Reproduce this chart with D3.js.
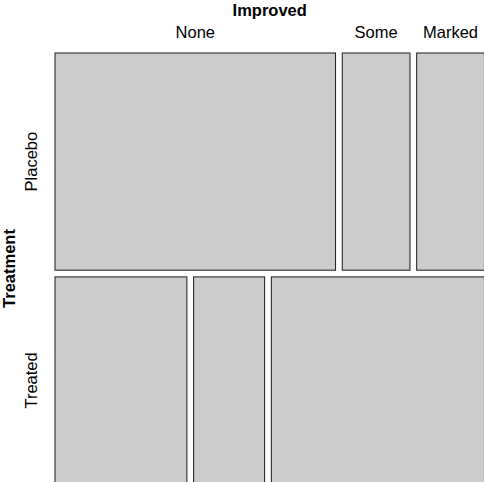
<!DOCTYPE html>
<html>
<head>
<meta charset="utf-8">
<script src="https://cdn.jsdelivr.net/npm/d3@7"></script>
<style>
  html, body { margin: 0; padding: 0; background: #fff; }
  svg { display: block; }
</style>
</head>
<body>
<svg id="chart" width="484" height="482"></svg>
<script>
// Arthritis data: Treatment x Improved counts
const treatments = ["Placebo", "Treated"];
const improved = ["None", "Some", "Marked"];
const placeboCounts = [29, 7, 7];
const treatedCounts = [13, 7, 21];
const rowVar = "Treatment";
const colVar = "Improved";

(function () {
  const counts = [placeboCounts, treatedCounts];
  const rowTotals = counts.map(r => d3.sum(r));
  const grand = d3.sum(rowTotals);

  const svg = d3.select("#chart");
  const font = "'Liberation Sans', Arial, Helvetica, sans-serif";

  // plotting region and spacing between tiles
  const plotLeft = 55, plotRight = 484.4, plotTop = 53, plotBottom = 484;
  const gap = 6.7;

  // vertical split by Treatment
  const yScale = d3.scaleLinear()
    .domain([0, grand])
    .range([0, (plotBottom - plotTop) - gap * (treatments.length - 1)]);

  const rows = [];
  let yCursor = plotTop;
  treatments.forEach((t, i) => {
    const h = yScale(rowTotals[i]);
    rows.push({ name: t, y: yCursor, h });
    yCursor += h + gap;
  });

  // horizontal split within each row by Improved
  const tiles = [];
  rows.forEach((r, i) => {
    const xScale = d3.scaleLinear()
      .domain([0, rowTotals[i]])
      .range([0, (plotRight - plotLeft) - gap * (improved.length - 1)]);
    let xCursor = plotLeft;
    improved.forEach((lev, j) => {
      const w = xScale(counts[i][j]);
      tiles.push({ row: i, col: j, x: xCursor, y: r.y, w, h: r.h });
      xCursor += w + gap;
    });
  });

  svg.selectAll("rect.tile")
    .data(tiles)
    .enter().append("rect")
    .attr("class", "tile")
    .attr("x", d => d.x)
    .attr("y", d => d.y)
    .attr("width", d => d.w)
    .attr("height", d => d.h)
    .attr("fill", "#cccccc")
    .attr("stroke", "#1a1a1a")
    .attr("stroke-width", 1);

  // column labels, centred over the first row's tiles
  const topTiles = tiles.filter(d => d.row === 0);
  svg.selectAll("text.collab")
    .data(topTiles)
    .enter().append("text")
    .attr("class", "collab")
    .attr("x", d => d.x + d.w / 2)
    .attr("y", 37.5)
    .attr("text-anchor", "middle")
    .attr("font-family", font)
    .attr("font-size", 16.5)
    .attr("fill", "#000")
    .text(d => improved[d.col]);

  svg.append("text")
    .attr("x", (plotLeft + plotRight) / 2)
    .attr("y", 15.5)
    .attr("text-anchor", "middle")
    .attr("font-family", font)
    .attr("font-size", 16.5)
    .attr("font-weight", "bold")
    .attr("fill", "#000")
    .text(colVar);

  // row labels
  svg.selectAll("text.rowlab")
    .data(rows)
    .enter().append("text")
    .attr("class", "rowlab")
    .attr("transform", d => `translate(37,${d.y + d.h / 2}) rotate(-90)`)
    .attr("text-anchor", "middle")
    .attr("font-family", font)
    .attr("font-size", 16.5)
    .attr("fill", "#000")
    .text(d => d.name);

  svg.append("text")
    .attr("transform", `translate(15,${(plotTop + plotBottom) / 2}) rotate(-90)`)
    .attr("text-anchor", "middle")
    .attr("font-family", font)
    .attr("font-size", 16.5)
    .attr("font-weight", "bold")
    .attr("fill", "#000")
    .text(rowVar);
})();
</script>
</body>
</html>
